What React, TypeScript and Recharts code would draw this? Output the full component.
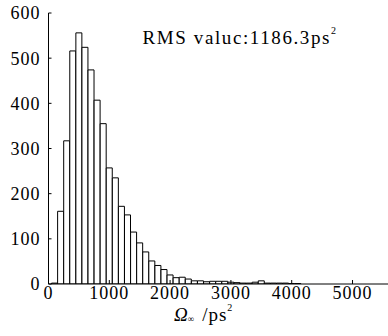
import { ComposedChart, Bar, Line, XAxis, YAxis } from 'recharts'

// histogram bins (bin centres, width 100 ps^2) and counts
const binCenters = [
  100, 200, 300, 400, 500, 600, 700, 800, 900, 1000,
  1100, 1200, 1300, 1400, 1500, 1600, 1700, 1800, 1900, 2000,
  2100, 2200, 2300, 2400, 2500, 2600, 2700, 2800, 2900, 3000,
  3100, 3200, 3300, 3400, 3500, 3600, 3700, 3800, 3900, 4000, 4100,
]
const counts = [
  2, 161, 317, 516, 556, 524, 474, 407, 355, 257,
  235, 172, 153, 115, 91, 71, 51, 41, 32, 20,
  14, 15, 11, 7, 7, 5, 6, 6, 6, 4,
  3, 2, 2, 4, 7, 2, 2, 2, 2, 1, 1,
]
const xTicks = [0, 1000, 2000, 3000, 4000, 5000]
const yTicks = [0, 100, 200, 300, 400, 500, 600]
// the source figure is cropped just left of its right frame line
const xDomain = [0, 5600]
const yDomain = [0, 600]

const data = binCenters.map((x, i) => ({ x, count: counts[i] }))

const serif = 'Liberation Serif'
const tickStyle = { fill: '#000', fontSize: 18, fontFamily: serif, letterSpacing: 1 }
const noLabel = () => <g />

export default function App() {
  return (
    <div style={{ position: 'absolute', left: 0, top: 0, width: 388, height: 336, background: '#fff', overflow: 'hidden' }}>
      <ComposedChart
        width={388}
        height={336}
        data={data}
        margin={{ top: 13, right: -1, left: 0, bottom: 0 }}
        barCategoryGap={0}
        barGap={0}
      >
        {/* bottom axis: labels outside, ticks pointing in */}
        <XAxis
          xAxisId="main"
          dataKey="x"
          type="number"
          domain={xDomain}
          ticks={xTicks}
          allowDataOverflow
          height={52}
          tickSize={-4}
          tickMargin={6}
          tickLine={{ stroke: '#000' }}
          axisLine={{ stroke: '#000', strokeWidth: 1 }}
          tick={tickStyle}
        />
        {/* top border with inward ticks */}
        <XAxis
          xAxisId="top"
          dataKey="x"
          type="number"
          orientation="top"
          mirror
          domain={xDomain}
          ticks={xTicks}
          allowDataOverflow
          height={0}
          tick={noLabel}
          tickSize={4}
          tickLine={{ stroke: '#000' }}
          axisLine={{ stroke: '#000', strokeWidth: 1 }}
        />
        <YAxis
          yAxisId="main"
          type="number"
          domain={yDomain}
          ticks={yTicks}
          allowDataOverflow
          width={48.5}
          tickSize={-3}
          tickMargin={11}
          tickLine={{ stroke: '#000' }}
          axisLine={{ stroke: '#000', strokeWidth: 1 }}
          tick={tickStyle}
        />
        <YAxis
          yAxisId="right"
          type="number"
          orientation="right"
          mirror
          domain={yDomain}
          ticks={yTicks}
          allowDataOverflow
          width={0}
          tick={noLabel}
          tickSize={3}
          tickLine={{ stroke: '#000' }}
          axisLine={{ stroke: '#000', strokeWidth: 1 }}
        />
        <Bar
          xAxisId="main"
          yAxisId="main"
          dataKey="count"
          fill="#fff"
          stroke="#000"
          strokeWidth={1}
          isAnimationActive={false}
        />
        {/* invisible series so the top/right frame axes get a scale */}
        <Line
          xAxisId="top"
          yAxisId="right"
          dataKey="count"
          stroke="none"
          dot={false}
          activeDot={false}
          isAnimationActive={false}
        />
      </ComposedChart>
      <svg
        width={388}
        height={336}
        style={{ position: 'absolute', left: 0, top: 0, pointerEvents: 'none' }}
      >
        <text x={142.5} y={44} fontSize={19} fontFamily={serif} letterSpacing={1.6} fill="#000">
          RMS valuc:1186.3ps
          <tspan fontSize={10} dy={-10} letterSpacing={0}>2</tspan>
        </text>
        <text x={174} y={321} fontSize={19} fontFamily={serif} fill="#000">
          <tspan fontStyle="italic">Ω</tspan>
          <tspan fontSize={9} dy={1}>∞</tspan>
          <tspan dx={8} dy={-1} letterSpacing={1}>/ps</tspan>
          <tspan fontSize={10} dy={-10}>2</tspan>
        </text>
      </svg>
    </div>
  )
}
